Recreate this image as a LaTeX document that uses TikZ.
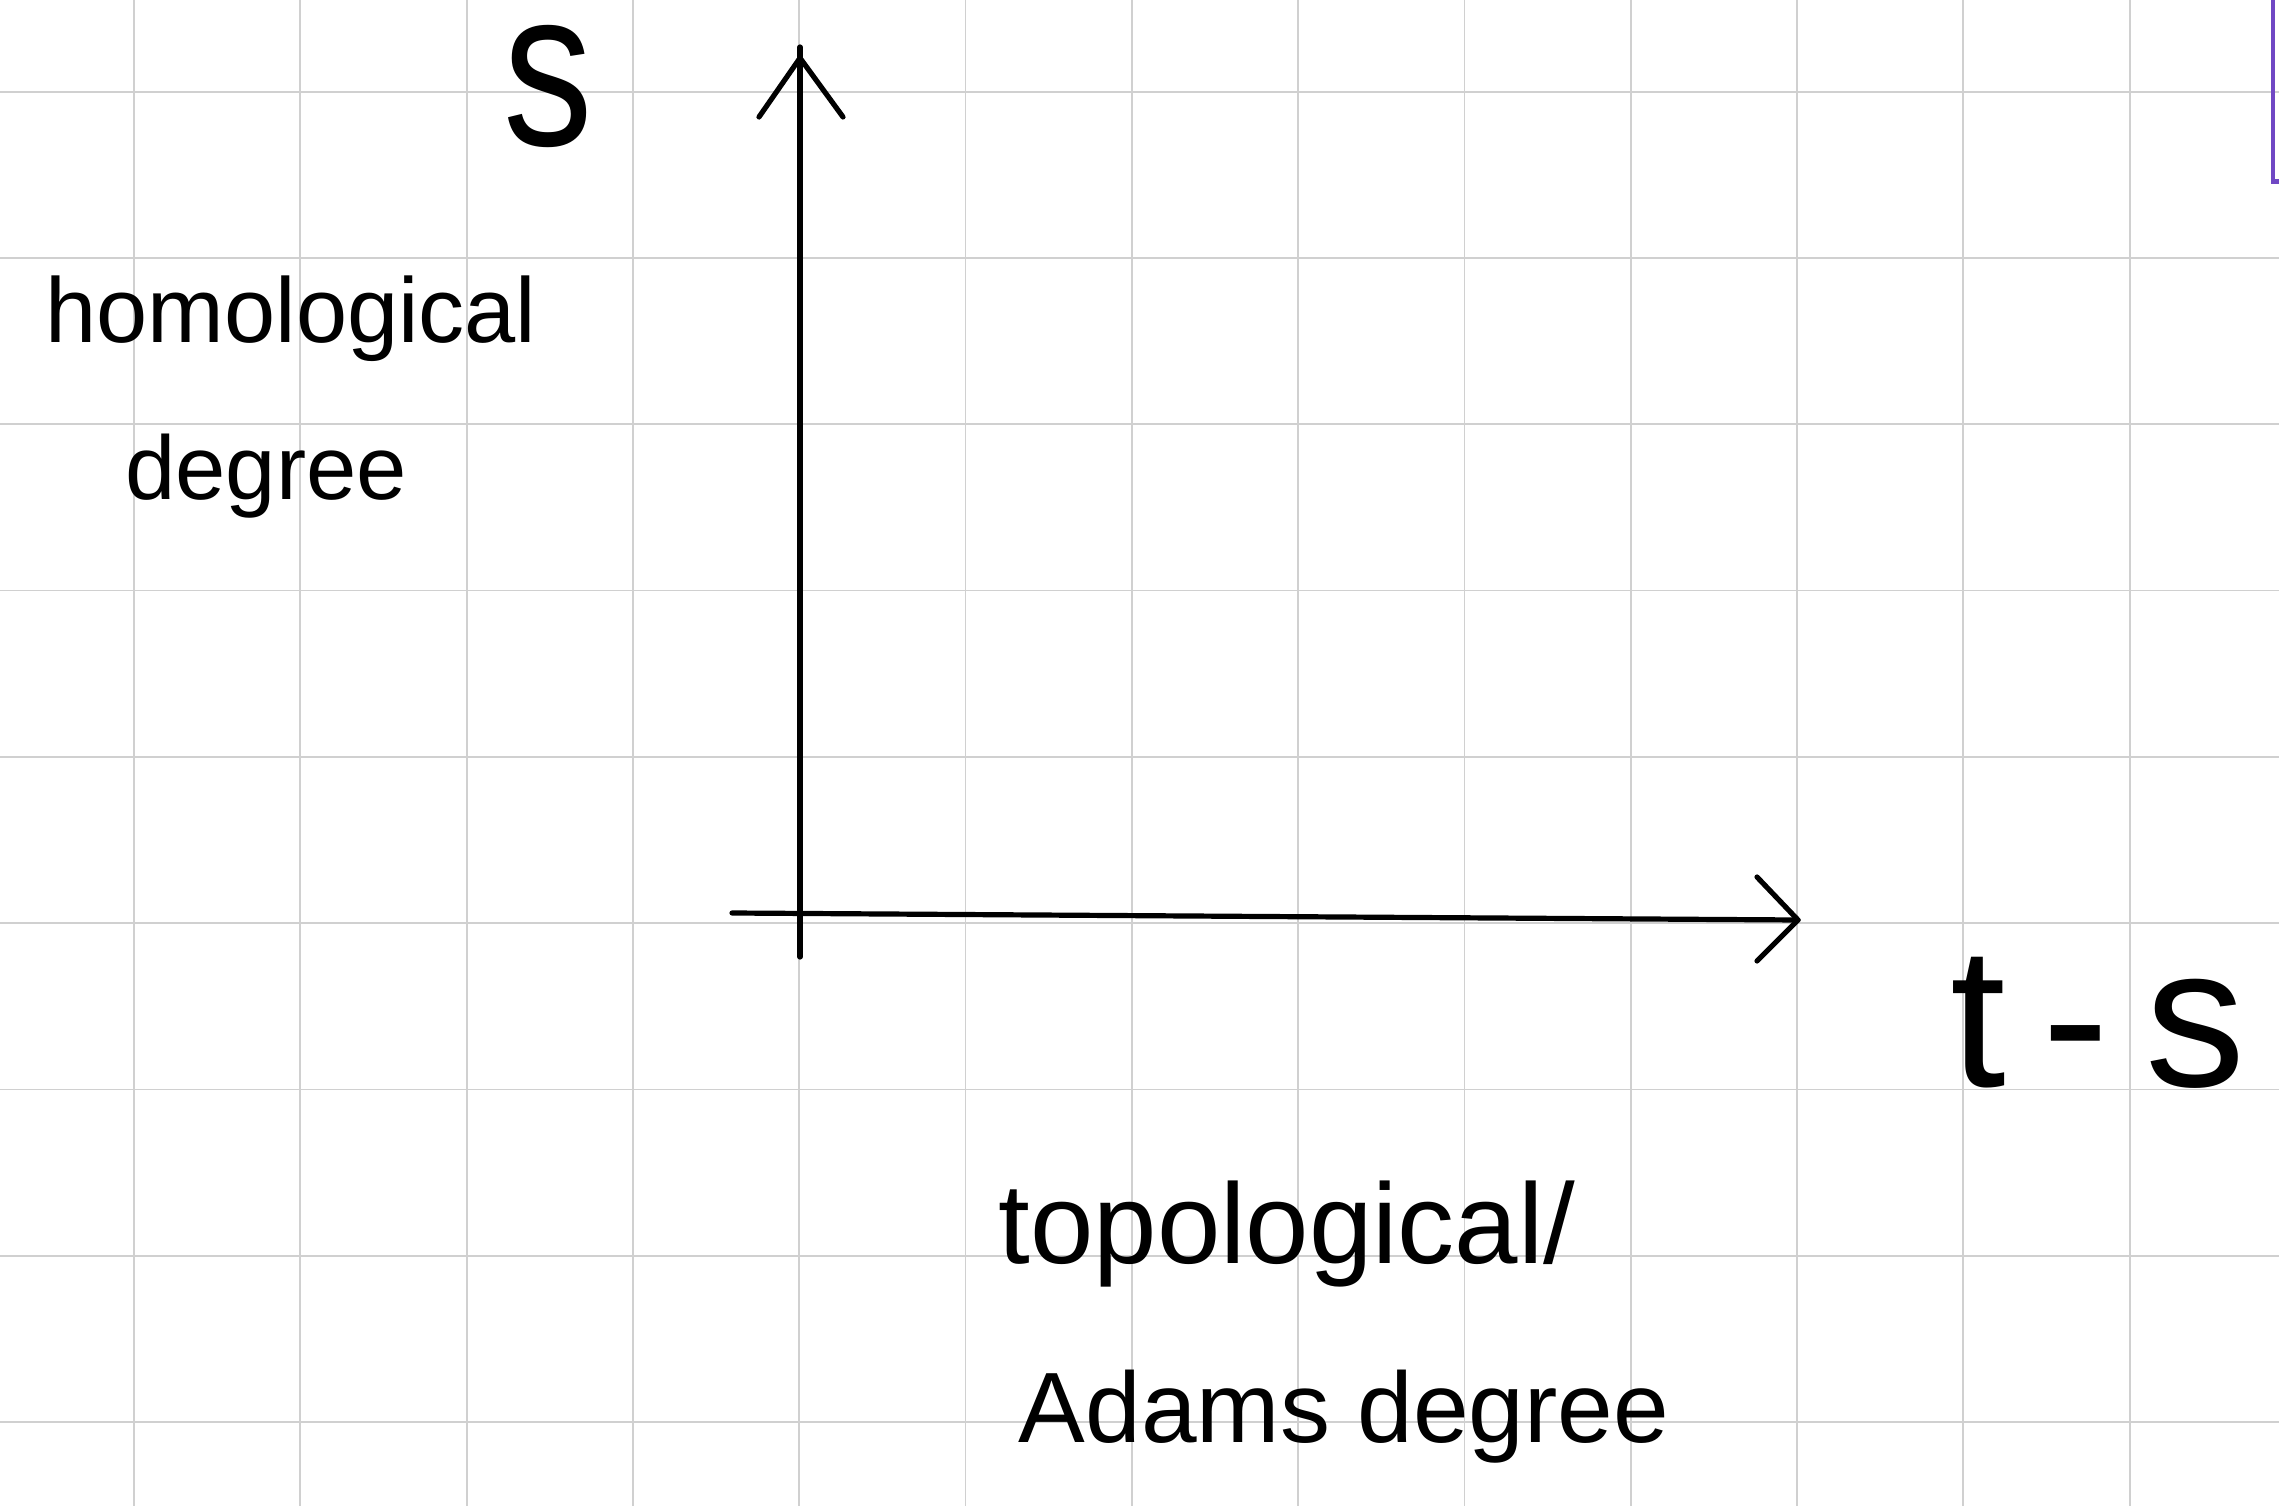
\documentclass[tikz,border=0pt]{standalone}
\usepackage{fontspec}
\setmainfont{Liberation Sans}
\usepackage{graphicx}
\definecolor{gridgray}{RGB}{208,208,208}
\definecolor{markpurple}{RGB}{112,72,196}
\begin{document}
\begin{tikzpicture}[x=0.25pt,y=-0.25pt,
  gridline/.style={draw=gridgray,line width=0.45pt},
  axisline/.style={draw=black,line width=1.3pt,line cap=round,line join=round},
  handlabel/.style={inner sep=0pt,anchor=base,text=black}]
\useasboundingbox (0,0) rectangle (2279,1506);
\fill[white] (0,0) rectangle (2279,1506);
% grid
\foreach \k in {0,...,12} {
  \draw[gridline] ({134+166.3*\k},0) -- ({134+166.3*\k},1506);
}
\foreach \k in {0,...,8} {
  \draw[gridline] (0,{91.7+166.3*\k}) -- (2279,{91.7+166.3*\k});
}
% purple mark at top right
\draw[draw=markpurple,line width=1.15pt] (2273,-5) -- (2273,181.5) -- (2285,181.5);
% axes
\coordinate (ytop) at (800,47);
\coordinate (ytip) at (800,58);
\coordinate (ybot) at (800,957);
\coordinate (yl) at (759,117);
\coordinate (yr) at (843,117);
\coordinate (xleft) at (732,913);
\coordinate (xtip) at (1798,920);
\coordinate (xu) at (1757,877);
\coordinate (xd) at (1757,961);
\draw[axisline] (ytop) -- (ybot);
\draw[axisline] (yl) -- (ytip) -- (yr);
\draw[axisline] (xleft) -- (xtip);
\draw[axisline] (xu) -- (xtip) -- (xd);
% labels
\node[handlabel] (s) at (548,146) {\fontsize{56pt}{64pt}\selectfont\scalebox{0.8}[1]{s}};
\node[handlabel] (homo) at (291,343) {\fontsize{23pt}{27pt}\selectfont homological};
\node[handlabel] (deg) at (266,500) {\fontsize{22.6pt}{27pt}\selectfont degree};
\node[handlabel] (ts) at (2098,1086) {\fontsize{50pt}{58pt}\selectfont t\hspace{9pt}-\hspace{9pt}s};
\node[handlabel] (topo) at (1287,1263) {\fontsize{28.5pt}{33pt}\selectfont topological/};
\node[handlabel] (adams) at (1344,1442) {\fontsize{25pt}{30pt}\selectfont Adams degree};
\end{tikzpicture}
\end{document}
